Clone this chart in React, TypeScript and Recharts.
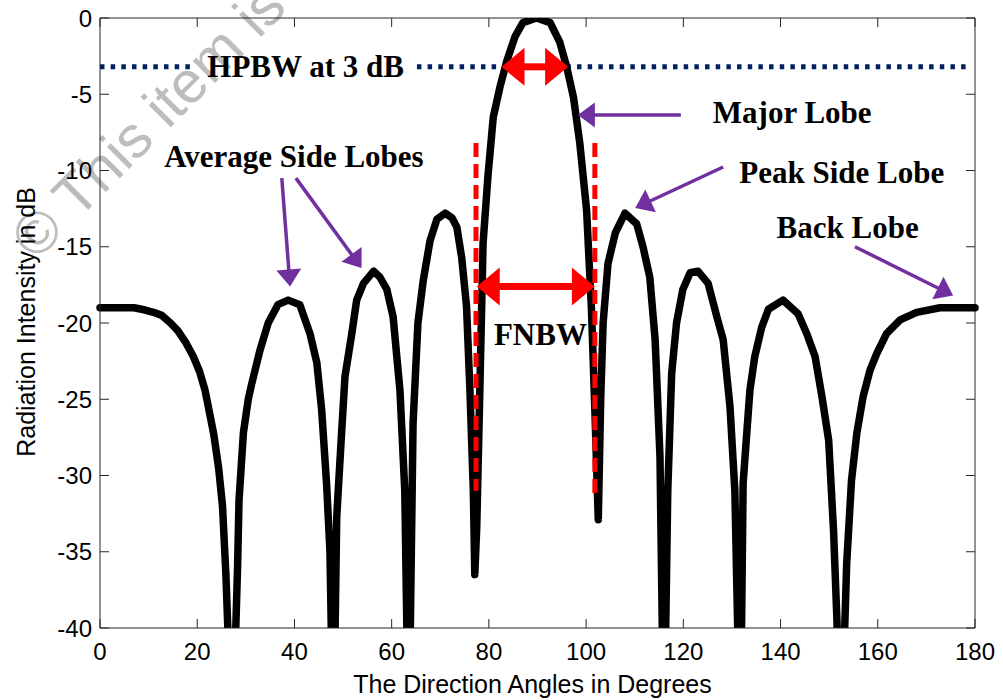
import React from 'react';
import { LineChart, Line, XAxis, YAxis, ReferenceLine, ReferenceDot } from 'recharts';

// Direction angle (degrees) and radiation intensity (dB)
const angles = [
  0, 4, 7, 9.3, 11, 12.7, 14.5, 16, 17.5, 19.2, 20.5, 21.6, 22.6, 23.4, 24.4, 25.2, 25.9, 27.2, 28.3, 28.6,
  29.5, 30.5, 31.2, 32.9, 34.6, 36.6, 38.7, 41.1, 43.2, 44.6, 45.6, 46.6, 47.3, 48, 48.7, 49.7, 50.4, 51.8,
  52.8, 54.2, 56.3, 57.6, 59, 60.3, 61.7, 62.7, 63.5, 64.4, 65.4, 66.5, 67.9, 69.3, 71, 72.4, 73.4, 74.4,
  75.4, 76.1, 76.8, 77.1, 77.5, 78.2, 78.8, 79.8, 80.9, 82.3, 83.7, 85.4, 87, 89.8, 92.6, 94.6, 96, 97.4,
  98.7, 100.1, 101.1, 101.8, 102.5, 103, 103.5, 104.5, 106, 108, 110.4, 111.7, 113.1, 114.2, 115.2, 116,
  116.8, 117.6, 118.6, 119.9, 121.4, 123, 125.1, 126.9, 128.2, 129.6, 130.6, 131.7, 132.3, 133.7, 134.7,
  136.1, 137.5, 140.5, 143.6, 145.4, 147.1, 148.5, 149.9, 150.9, 151.6, 152.4, 153.2, 153.6, 154.6, 155.7,
  157, 158.4, 159.8, 161.8, 164.6, 168, 172.8, 176, 180,
];
const intensity = [
  -19, -19, -19, -19.15, -19.3, -19.5, -20, -20.5, -21.2, -22.2, -23.2, -24.4, -26, -27.3, -29.5, -32, -36.5, -48, -36, -31.6,
  -27.2, -25, -24, -21.8, -20, -18.8, -18.5, -18.8, -20.7, -22.6, -25.7, -30.5, -34.9, -48, -32.7, -27.2, -23.5, -20.7,
  -18.5, -17.4, -16.6, -17, -17.8, -19.6, -24.4, -31, -48, -26.6, -20, -17.2, -14.6, -13.2, -12.8, -13.1, -13.7, -15.7,
  -18.9, -24.4, -31, -36.5, -33.4, -23.5, -14.8, -10.4, -6.5, -4.5, -2.8, -1.2, -0.3, 0, -0.3, -1.6, -3.2, -5.2,
  -8.2, -12.6, -19.1, -25.7, -32.9, -25, -20, -16.1, -14.1, -12.8, -13.5, -15, -17, -21.1, -28.8, -48,
  -31, -23.3, -20, -17.8, -16.7, -16.6, -17.4, -19.6, -21.1, -25.5, -31, -48, -30.5, -24.4, -22.2,
  -20.3, -19.1, -18.5, -19.4, -20.7, -22.2, -24.8, -27.7, -33.6, -39.5, -50, -40, -35.8, -30.3, -27.2,
  -24.8, -23.1, -22, -20.7, -19.8, -19.3, -19, -19, -19,
];

const xTicks = [0, 20, 40, 60, 80, 100, 120, 140, 160, 180];
const yTicks = [-40, -35, -30, -25, -20, -15, -10, -5, 0];

const hpbwLevel = -3.2;
const hpbwEdges = [82.6, 96.3];
const fnbwEdges = [77.5, 101.8];
const fnbwLevel = -17.6;
const nullMarkers = [77.35, 101.8];

const data = angles.map((a, i) => ({ angle: a, dB: intensity[i] }));

const AX = '#262626';
const RED = '#ff0000';
const PURPLE = '#7030a0';
const NAVY = '#002060';
const SANS = 'Arial, "Liberation Sans", sans-serif';
const SERIF = '"Times New Roman", "Liberation Serif", serif';
const TICK_LEN = 9;

function arrowShape(color: string, shaft: number, headLen: number, headW: number, double: boolean) {
  return (p: any) => {
    const { x1, y1, x2, y2 } = p;
    const dx = x2 - x1;
    const dy = y2 - y1;
    const len = Math.hypot(dx, dy) || 1;
    const ux = dx / len;
    const uy = dy / len;
    const nx = -uy;
    const ny = ux;
    const head = (tx: number, ty: number, dxn: number, dyn: number) => {
      const bx = tx - dxn * headLen;
      const by = ty - dyn * headLen;
      return `${tx},${ty} ${bx + (nx * headW) / 2},${by + (ny * headW) / 2} ${bx - (nx * headW) / 2},${by - (ny * headW) / 2}`;
    };
    const sx = double ? x1 + ux * headLen * 0.8 : x1;
    const sy = double ? y1 + uy * headLen * 0.8 : y1;
    const ex = x2 - ux * headLen * 0.8;
    const ey = y2 - uy * headLen * 0.8;
    return (
      <g>
        <line x1={sx} y1={sy} x2={ex} y2={ey} stroke={color} strokeWidth={shaft} />
        <polygon points={head(x2, y2, ux, uy)} fill={color} />
        {double && <polygon points={head(x1, y1, -ux, -uy)} fill={color} />}
      </g>
    );
  };
}

// inward tick marks at both ends of a full-span reference line
const tickPairShape = (p: any) => {
  const { x1, y1, x2, y2 } = p;
  const dx = x2 - x1;
  const dy = y2 - y1;
  const len = Math.hypot(dx, dy) || 1;
  const ux = (dx / len) * TICK_LEN;
  const uy = (dy / len) * TICK_LEN;
  return (
    <g>
      <line x1={x1} y1={y1} x2={x1 + ux} y2={y1 + uy} stroke={AX} strokeWidth={1} />
      <line x1={x2} y1={y2} x2={x2 - ux} y2={y2 - uy} stroke={AX} strokeWidth={1} />
    </g>
  );
};

function textShape(text: string) {
  return (p: any) => (
    <text
      x={p.cx}
      y={p.cy}
      textAnchor="middle"
      fontFamily={SERIF}
      fontWeight="bold"
      fontSize={31}
      fill="#000"
    >
      {text}
    </text>
  );
}

const annotations = [
  { text: 'HPBW at 3 dB', x: 42.3, y: -3.87 },
  { text: 'Average Side Lobes', x: 39.9, y: -9.77 },
  { text: 'Major Lobe', x: 142.4, y: -6.89 },
  { text: 'Peak Side Lobe', x: 152.6, y: -10.82 },
  { text: 'Back Lobe', x: 153.8, y: -14.43 },
  { text: 'FNBW', x: 90.6, y: -21.44 },
];

const pointerArrows = [
  { from: { x: 119.5, y: -6.36 }, to: { x: 98.3, y: -6.36 } },
  { from: { x: 37.4, y: -10.5 }, to: { x: 39.1, y: -17.6 } },
  { from: { x: 40.3, y: -10.5 }, to: { x: 53.8, y: -16.4 } },
  { from: { x: 128.2, y: -9.77 }, to: { x: 110.1, y: -12.46 } },
  { from: { x: 155.3, y: -15.0 }, to: { x: 175.5, y: -18.2 } },
];

const XTitle = (props: any) => {
  const vb = props.viewBox || {};
  return (
    <text x={vb.x + vb.width / 2 - 5} y={vb.y + 65} textAnchor="middle" fontFamily={SANS} fontSize={25} fill="#000">
      The Direction Angles in Degrees
    </text>
  );
};

const YTitle = (props: any) => {
  const vb = props.viewBox || {};
  const cx = vb.x + 35;
  const cy = vb.y + vb.height / 2 - 1;
  return (
    <text x={cx} y={cy} transform={`rotate(-90 ${cx} ${cy})`} textAnchor="middle" fontFamily={SANS} fontSize={25} fill="#000">
      Radiation Intensity in dB
    </text>
  );
};

export default function App() {
  const tickStyle = { fill: '#000', fontSize: 24, fontFamily: SANS };
  return (
    <div style={{ position: 'absolute', left: 0, top: 0, width: 1003, height: 700, background: '#fff', overflow: 'hidden' }}>
      <svg width={1003} height={700} style={{ position: 'absolute', left: 0, top: 0 }}>
        <text
          x={36}
          y={262}
          transform="rotate(-45 36 262)"
          fontFamily={SANS}
          fontSize={59}
          fill="#bdbdbd"
        >
          © This item is
        </text>
      </svg>
      <div style={{ position: 'absolute', left: 0, top: 0 }}>
        <LineChart width={1003} height={700} data={data} margin={{ top: 18, right: 28, bottom: 0, left: 0 }}>
          <XAxis
            xAxisId="x"
            dataKey="angle"
            type="number"
            domain={[0, 180]}
            ticks={xTicks}
            height={72}
            tickSize={0}
            tickMargin={15}
            tick={tickStyle}
            axisLine={{ stroke: AX, strokeWidth: 1 }}
            tickLine={false}
            label={<XTitle />}
          />
          <YAxis
            yAxisId="y"
            type="number"
            domain={[-40, 0]}
            ticks={yTicks}
            allowDataOverflow
            width={100}
            tickSize={0}
            tickMargin={8}
            tick={tickStyle}
            axisLine={{ stroke: AX, strokeWidth: 1 }}
            tickLine={false}
            label={<YTitle />}
          />
          <ReferenceLine xAxisId="x" yAxisId="y" y={0} stroke={AX} strokeWidth={1} />
          <ReferenceLine xAxisId="x" yAxisId="y" x={180} stroke={AX} strokeWidth={1} />
          {xTicks.map((t) => (
            <ReferenceLine key={`xt${t}`} xAxisId="x" yAxisId="y" x={t} shape={tickPairShape} />
          ))}
          {yTicks.map((t) => (
            <ReferenceLine key={`yt${t}`} xAxisId="x" yAxisId="y" y={t} shape={tickPairShape} />
          ))}
          <ReferenceLine
            xAxisId="x"
            yAxisId="y"
            segment={[{ x: 0, y: hpbwLevel }, { x: 18.5, y: hpbwLevel }]}
            stroke={NAVY}
            strokeWidth={5}
            strokeDasharray="4.5 6.17"
          />
          <ReferenceLine
            xAxisId="x"
            yAxisId="y"
            segment={[{ x: 65.2, y: hpbwLevel }, { x: 178.3, y: hpbwLevel }]}
            stroke={NAVY}
            strokeWidth={5}
            strokeDasharray="4.5 6.17"
          />
          <Line
            xAxisId="x"
            yAxisId="y"
            dataKey="dB"
            type="linear"
            stroke="#000"
            strokeWidth={7.5}
            strokeLinejoin="round"
            strokeLinecap="round"
            dot={false}
            activeDot={false}
            isAnimationActive={false}
          />
          {nullMarkers.map((x, i) => (
            <ReferenceLine
              key={`nm${i}`}
              xAxisId="x"
              yAxisId="y"
              segment={[{ x, y: -8.2 }, { x, y: i === 0 ? -31 : -31.3 }]}
              stroke={RED}
              strokeWidth={5}
              strokeDasharray="14 7"
            />
          ))}
          <ReferenceLine
            xAxisId="x"
            yAxisId="y"
            segment={[{ x: hpbwEdges[0], y: hpbwLevel }, { x: hpbwEdges[1], y: hpbwLevel }]}
            shape={arrowShape(RED, 7, 23, 38, true)}
          />
          <ReferenceLine
            xAxisId="x"
            yAxisId="y"
            segment={[{ x: fnbwEdges[0], y: fnbwLevel }, { x: fnbwEdges[1], y: fnbwLevel }]}
            shape={arrowShape(RED, 7, 23, 38, true)}
          />
          {pointerArrows.map((a, i) => (
            <ReferenceLine
              key={`pa${i}`}
              xAxisId="x"
              yAxisId="y"
              segment={[a.from, a.to]}
              shape={arrowShape(PURPLE, 3.5, 17, 25, false)}
            />
          ))}
          {annotations.map((a, i) => (
            <ReferenceDot
              key={`an${i}`}
              xAxisId="x"
              yAxisId="y"
              x={a.x}
              y={a.y}
              r={0}
              shape={textShape(a.text)}
            />
          ))}
        </LineChart>
      </div>
    </div>
  );
}
